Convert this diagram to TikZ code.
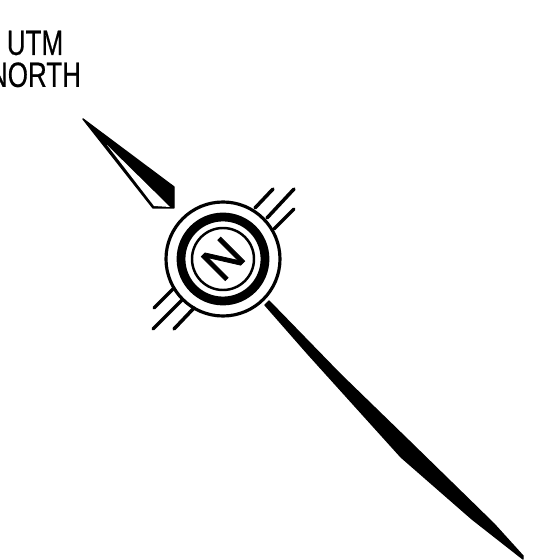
\documentclass[tikz,border=0pt]{standalone}
\usepackage{fontspec}
\setmainfont{Liberation Sans}
\newfontfamily\heavyfont[FakeBold=0.5]{Liberation Sans}
\newfontfamily\markfont[FakeBold=1.6]{Liberation Sans}
\tikzset{
  ticklines/.style={line width=1pt,line cap=round},
  needle/.style={fill=black,draw=black,line width=0.4pt,line join=round},
}
\begin{document}
\begin{tikzpicture}
\useasboundingbox (0,0) rectangle (5.47,5.60);
% Label
\node[font=\heavyfont\fontsize{10}{9.1}\selectfont,align=center,xscale=0.74,inner sep=0pt] (utmLabel) at (0.35,5.01) {UTM\\NORTH};
% Grid north arrow
\draw[needle] (0.83,4.41) -- (1.74,3.73) -- (1.74,3.52) -- (1.53,3.52) -- cycle;
\fill[white] (1.07,4.15) -- (1.70,3.53) -- (1.54,3.54) -- cycle;
% Compass ring
\coordinate (ringCenter) at (2.23,3.01);
\draw[line width=0.9pt] (ringCenter) circle (0.57);
\draw[line width=2.5pt] (ringCenter) circle (0.42);
\draw[line width=0.7pt] (ringCenter) circle (0.31);
\node[font=\markfont\fontsize{14}{14}\selectfont,rotate=45,inner sep=0pt] (northMark) at (ringCenter) {N};
% Tick lines
\draw[ticklines] (2.55,3.52) -- (2.73,3.71);
\draw[ticklines] (2.67,3.42) -- (2.94,3.71);
\draw[ticklines] (2.74,3.31) -- (2.94,3.51);
\draw[ticklines] (1.73,2.71) -- (1.54,2.52);
\draw[ticklines] (1.82,2.60) -- (1.53,2.31);
\draw[ticklines] (1.94,2.52) -- (1.74,2.31);
% True north needle
\draw[needle] (2.69,2.59) -- (3.40,1.86) -- (4.09,1.19) -- (4.94,0.36) -- (5.23,0.04) -- (5.23,0.01)
  -- (4.72,0.41) -- (4.01,1.03) -- (3.08,2.06) -- (2.65,2.55) -- cycle;
\end{tikzpicture}
\end{document}
